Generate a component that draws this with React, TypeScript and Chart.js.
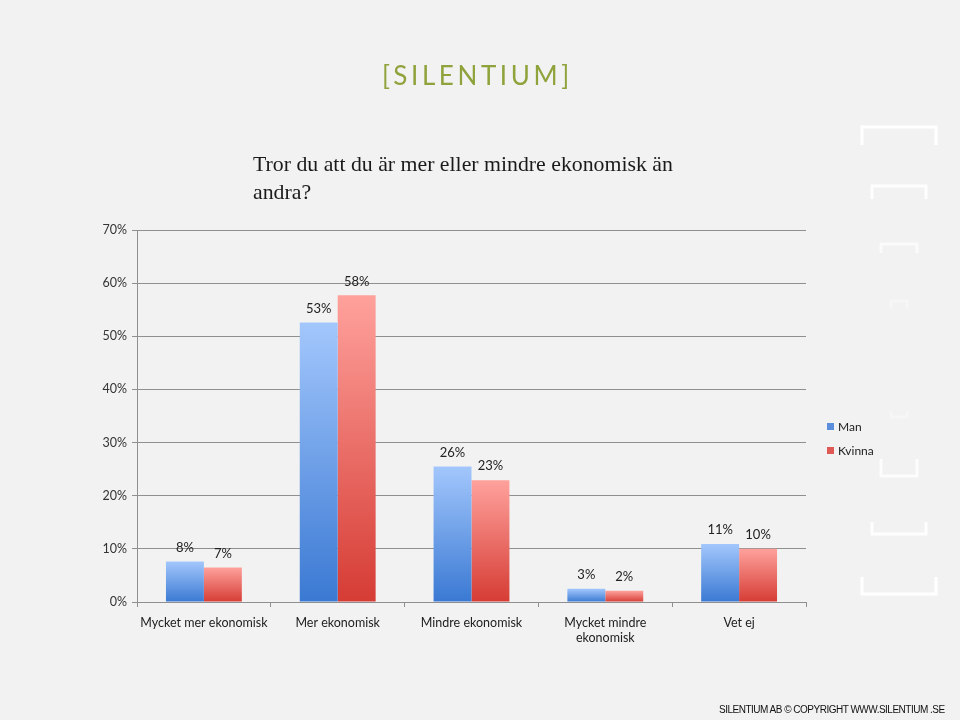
import React, { useEffect, useRef } from "react";
import { Chart, registerables } from "chart.js";

Chart.register(...registerables);

const categories: string[][] = [
  ["Mycket mer ekonomisk"],
  ["Mer ekonomisk"],
  ["Mindre ekonomisk"],
  ["Mycket mindre", "ekonomisk"],
  ["Vet ej"],
];
const seriesNames = ["Man", "Kvinna"];
const manValues = [7.6, 52.6, 25.5, 2.5, 10.9];
const kvinnaValues = [6.5, 57.7, 22.9, 2.1, 10.0];
const yMax = 70;
const yStep = 10;

const titleText = ["Tror du att du är mer eller mindre ekonomisk än", "andra?"];
const footerText = "SILENTIUM AB © COPYRIGHT WWW.SILENTIUM .SE";

const FONT = "Lato, 'Open Sans', sans-serif";

function barGradient(top: string, bottom: string) {
  return (ctx: any) => {
    const chart = ctx.chart;
    if (!chart.chartArea || ctx.type !== "data") return bottom;
    const y = chart.scales.y;
    const v = ctx.raw as number;
    const yTop = y.getPixelForValue(v);
    const yBase = y.getPixelForValue(0);
    if (!(yBase - yTop > 0)) return bottom;
    const g = chart.ctx.createLinearGradient(0, yTop, 0, yBase);
    g.addColorStop(0, top);
    g.addColorStop(1, bottom);
    return g;
  };
}

const bracketsPlugin = {
  id: "brackets",
  beforeDraw(chart: any) {
    const c = chart.ctx;
    const br: [number, number, number, number, number][] = [
      [862, 936, 127, 145, 1.0],
      [872, 926, 186, 199, 0.9],
      [881, 917, 244, 253, 0.7],
      [891, 907, 301, 308, 0.3],
      [891, 907, 417, 411, 0.3],
      [881, 917, 476, 459, 0.8],
      [872, 926, 534, 522, 0.9],
      [862, 936, 594, 577, 1.0],
    ];
    c.save();
    c.lineWidth = 3;
    c.lineCap = "butt";
    c.lineJoin = "miter";
    for (const [x1, x2, yl, ye, a] of br) {
      c.strokeStyle = `rgba(255,255,255,${a})`;
      c.beginPath();
      c.moveTo(x1, ye);
      c.lineTo(x1, yl);
      c.lineTo(x2, yl);
      c.lineTo(x2, ye);
      c.stroke();
    }
    c.restore();
  },
};

const valueLabelsPlugin = {
  id: "valueLabels",
  afterDatasetsDraw(chart: any) {
    const c = chart.ctx;
    c.save();
    c.font = `13px ${FONT}`;
    c.fillStyle = "#222";
    c.textAlign = "center";
    c.textBaseline = "middle";
    chart.data.datasets.forEach((ds: any, i: number) => {
      const meta = chart.getDatasetMeta(i);
      meta.data.forEach((el: any, j: number) => {
        c.fillText(Math.round(ds.data[j]) + "%", el.x, el.y - 14);
      });
    });
    c.restore();
  },
};

const legendPlugin = {
  id: "customLegend",
  afterDraw(chart: any) {
    const c = chart.ctx;
    c.save();
    c.font = `12px ${FONT}`;
    c.textBaseline = "middle";
    c.textAlign = "left";
    const swatches = ["#5b8fdd", "#e05a55"];
    chart.data.datasets.forEach((ds: any, i: number) => {
      const y = 427 + i * 24;
      c.fillStyle = swatches[i];
      c.fillRect(827, y - 4, 7, 7);
      c.fillStyle = "#222";
      c.fillText(ds.label, 838, y);
    });
    c.restore();
  },
};

export default function App() {
  const ref = useRef<HTMLCanvasElement>(null);
  useEffect(() => {
    if (!ref.current) return;
    const chart = new Chart(ref.current, {
      type: "bar",
      data: {
        labels: categories,
        datasets: [
          {
            label: seriesNames[0],
            data: manValues,
            backgroundColor: barGradient("#a3c7fc", "#3a79d3"),
            borderWidth: 0,
          },
          {
            label: seriesNames[1],
            data: kvinnaValues,
            backgroundColor: barGradient("#ffa19c", "#d53c34"),
            borderWidth: 0,
          },
        ],
      },
      options: {
        responsive: false,
        animation: false,
        devicePixelRatio: 1,
        layout: { padding: { left: 90, top: 230, right: 154, bottom: 58 } },
        datasets: { bar: { categoryPercentage: 0.567, barPercentage: 1 } },
        plugins: {
          legend: { display: false },
          tooltip: { enabled: false },
          title: { display: false },
        },
        scales: {
          x: {
            afterFit: (s: any) => {
              s.height = 60;
            },
            grid: {
              offset: true,
              drawOnChartArea: false,
              drawTicks: true,
              tickLength: 5,
              color: "#8f8f8f",
            },
            border: { color: "#8f8f8f", width: 1 },
            ticks: {
              font: { family: FONT, size: 12.5 },
              color: "#222",
              padding: 8,
              maxRotation: 0,
              autoSkip: false,
            },
          },
          y: {
            min: 0,
            max: yMax,
            afterFit: (s: any) => {
              s.width = 47;
            },
            grid: {
              color: "#8f8f8f",
              drawTicks: true,
              tickLength: 5,
            },
            border: { color: "#8f8f8f", width: 1 },
            ticks: {
              stepSize: yStep,
              font: { family: FONT, size: 12.5 },
              color: "#333",
              padding: 5,
              callback: (v: any) => v + "%",
            },
          },
        },
      },
      plugins: [bracketsPlugin, valueLabelsPlugin, legendPlugin],
    });
    return () => chart.destroy();
  }, []);

  return (
    <div
      style={{
        position: "absolute",
        left: 0,
        top: 0,
        width: 960,
        height: 720,
        background: "#f2f2f2",
        overflow: "hidden",
      }}
    >
      <canvas
        ref={ref}
        width={960}
        height={720}
        style={{ position: "absolute", left: 0, top: 0, width: 960, height: 720 }}
      />
      <div
        style={{
          position: "absolute",
          left: 382,
          top: 57,
          fontFamily: FONT,
          fontWeight: 400,
          fontSize: 26,
          letterSpacing: 3.6,
          color: "#8fa33c",
          whiteSpace: "nowrap",
          lineHeight: "36px",
        }}
      >
        [SILENTIUM]
      </div>
      <div
        style={{
          position: "absolute",
          left: 253,
          top: 150,
          fontFamily: "'Liberation Serif', serif",
          fontSize: 21.8,
          lineHeight: "28px",
          color: "#1a1a1a",
          whiteSpace: "nowrap",
        }}
      >
        {titleText[0]}
        <br />
        {titleText[1]}
      </div>
      <div
        style={{
          position: "absolute",
          left: 719,
          top: 703,
          fontFamily: "'Liberation Sans', Arial, sans-serif",
          fontSize: 10,
          letterSpacing: -0.5,
          lineHeight: "13px",
          color: "#111",
          whiteSpace: "nowrap",
        }}
      >
        {footerText}
      </div>
    </div>
  );
}
